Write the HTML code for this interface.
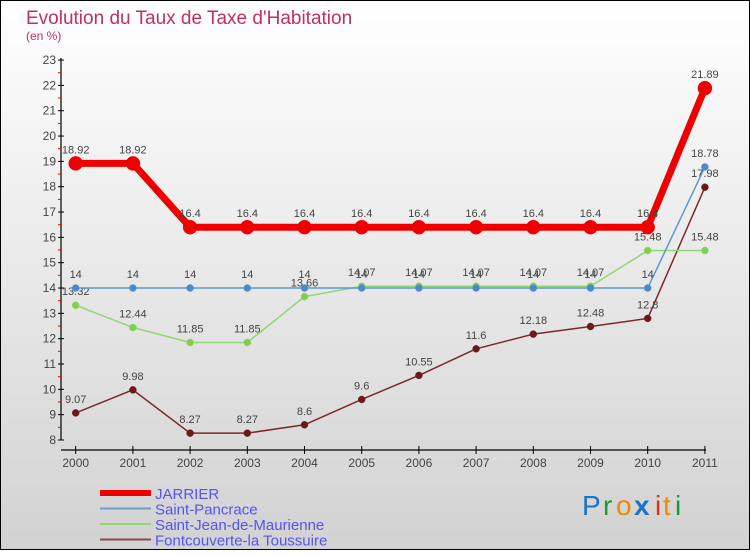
<!DOCTYPE html>
<html><head><meta charset="utf-8"><style>
body{margin:0;width:750px;height:550px;overflow:hidden;font-family:"Liberation Sans",sans-serif}
</style></head><body>
<svg width="750" height="550" xmlns="http://www.w3.org/2000/svg" id="svg">
<defs><linearGradient id="bg" x1="0" y1="0" x2="0" y2="1"><stop offset="0" stop-color="#ffffff"/><stop offset="1" stop-color="#d2d2d2"/></linearGradient></defs>
<rect x="0.5" y="0.5" width="749" height="549" fill="url(#bg)" stroke="#000"/>
<text x="26" y="24" font-size="19" fill="#c0305f">Evolution du Taux de Taxe d'Habitation</text>
<text x="26" y="40" font-size="12" fill="#c0305f">(en %)</text>
<g id="axes"></g><g id="series"></g><g id="legend"></g>
<g font-size="28" font-family="'Liberation Sans',sans-serif">
<text x="582" y="515" fill="#1a73c9">P</text><text x="603" y="515" fill="#1a9a3a">r</text><text x="616" y="515" fill="#f08a00">o</text><text x="634" y="515" fill="#1a73c9" font-weight="bold">x</text><text x="655" y="515" fill="#e03010">i</text><text x="663" y="515" fill="#f08a00">t</text><text x="675" y="515" fill="#1a9a3a">i</text>
</g>
</svg>
<script>
const years=[2000,2001,2002,2003,2004,2005,2006,2007,2008,2009,2010,2011];
const jarrier=[18.92,18.92,16.4,16.4,16.4,16.4,16.4,16.4,16.4,16.4,16.4,21.89];
const pancrace=[14,14,14,14,14,14,14,14,14,14,14,18.78];
const sjm=[13.32,12.44,11.85,11.85,13.66,14.07,14.07,14.07,14.07,14.07,15.48,15.48];
const font=[9.07,9.98,8.27,8.27,8.6,9.6,10.55,11.6,12.18,12.48,12.8,17.98];
const yTicks=[8,9,10,11,12,13,14,15,16,17,18,19,20,21,22,23];
const NS="http://www.w3.org/2000/svg";
const X=i=>75.7+i*57.2, Y=v=>440-(v-8)*25.33;
function mk(p,t,a){const e=document.createElementNS(NS,t);for(const k in a)e.setAttribute(k,a[k]);p.appendChild(e);return e;}
const ax=document.getElementById('axes');
let l=mk(ax,'line',{x1:61,y1:58,x2:61,y2:440,stroke:'#000','stroke-width':1.2});


l=mk(ax,'line',{x1:61,y1:450,x2:706,y2:450,stroke:'#000','stroke-width':1.2});


yTicks.forEach(v=>{
 mk(ax,'line',{x1:58,y1:Y(v),x2:64,y2:Y(v),stroke:'#000'});
 if(v<23)mk(ax,'line',{x1:58,y1:Y(v+0.5),x2:61,y2:Y(v+0.5),stroke:'#e00'});
 const t=mk(ax,'text',{x:56,y:Y(v)+4,'text-anchor':'end','font-size':12,fill:'#444'});t.textContent=v;
 
 
});
years.forEach((yr,i)=>{
 mk(ax,'line',{x1:X(i),y1:446,x2:X(i),y2:454,stroke:'#000'});
 const t=mk(ax,'text',{x:X(i),y:467,'text-anchor':'middle','font-size':12,fill:'#444'});t.textContent=yr;
 
 
});
const sg=document.getElementById('series');
function series(name,data,color,w,r,dot,lbl){
 const g=mk(sg,'g',{});
 
 
 mk(g,'polyline',{points:data.map((v,i)=>X(i)+','+Y(v)).join(' '),fill:'none',stroke:color,'stroke-width':w,'stroke-linejoin':'round'});
 data.forEach((v,i)=>{
  const c=mk(g,'circle',{cx:X(i),cy:Y(v),r:r,fill:dot,stroke:color,'stroke-width':0.5});
  
  
  if(lbl){const t=mk(g,'text',{x:X(i),y:Y(v)-10,'text-anchor':'middle','font-size':11,fill:'#444'});t.textContent=v;
  
  }
 });
}
series('fontcouverte-series',font,'#7a2a2a',1.5,3.5,'#6a1818',true);
series('saint-jean-series',sjm,'#90d870',1.5,3.5,'#80d050',true);
series('saint-pancrace-series',pancrace,'#5a9ad0',1.5,3.5,'#4a8ac8',true);
series('jarrier-series',jarrier,'#ee0000',7,7,'#ee0000',true);
const lg=document.getElementById('legend');
[['JARRIER','#ee0000',6],['Saint-Pancrace','#6aa0c8',2],['Saint-Jean-de-Maurienne','#90d870',2],['Fontcouverte-la Toussuire','#8a4a4a',2]].forEach((d,i)=>{
 const y=493+i*15.5;
 const g=mk(lg,'g',{});
 
 
 mk(g,'line',{x1:100,y1:y,x2:151,y2:y,stroke:d[1],'stroke-width':d[2]});
 const t=mk(g,'text',{x:155,y:y+6,'font-size':15,fill:'#5555ee'});t.textContent=d[0];
});
</script>
</body></html>
